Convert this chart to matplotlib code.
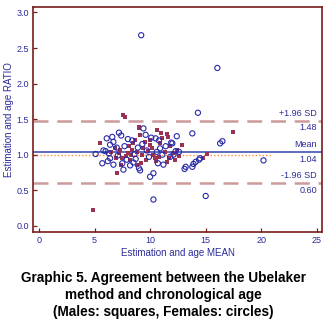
import matplotlib
matplotlib.use("Agg")
import matplotlib.pyplot as plt

plt.rcParams['font.family'] = ['Liberation Sans', 'DejaVu Sans']

# Males (squares): mean of estimation and age, ratio of estimation to age
male_mean = [4.9, 5.5, 6.8, 7.3, 7.5, 7.0, 7.6, 7.7, 8.5, 8.4, 9.0, 8.8, 9.0, 9.1,
             10.6, 11.0, 11.1, 11.5, 10.0, 9.4, 9.3, 8.8, 9.6, 10.3, 10.8, 11.7,
             11.5, 12.4, 12.9, 10.0, 17.5, 14.8, 15.1, 7.2, 7.8, 8.1, 8.2, 8.6,
             9.8, 10.2, 10.5, 10.9, 11.3, 11.8, 12.1, 12.2, 6.5, 6.9, 8.0, 9.5,
             10.4, 11.6, 12.6, 7.4, 9.2, 8.3]
male_ratio = [0.22, 1.17, 1.09, 1.07, 0.95, 0.74, 1.56, 1.53, 1.16, 1.07, 1.37, 1.04,
              1.39, 1.28, 1.35, 1.30, 1.23, 1.29, 1.21, 1.09, 1.00, 0.86, 0.93, 1.00,
              0.97, 0.95, 0.90, 1.07, 1.14, 1.14, 1.32, 0.96, 1.01, 1.02, 0.98, 1.12,
              0.92, 1.21, 1.05, 1.10, 0.91, 1.17, 1.04, 1.12, 1.02, 0.92, 1.04, 0.96,
              1.03, 1.18, 0.95, 1.25, 0.98, 0.85, 0.88, 0.99]

# Females (circles)
female_mean = [9.2, 16.05, 14.3, 16.3, 16.5, 12.0, 13.8, 20.2, 15.0, 10.3, 13.1,
               13.8, 13.9, 14.1, 14.4, 14.5, 6.1, 6.6, 6.7, 6.4, 7.4, 5.1, 5.7, 6.4,
               6.7, 7.5, 9.4, 10.5, 11.9, 10.9, 9.0, 10.3, 10.0, 13.2, 12.3, 12.6,
               12.1, 6.0, 6.3, 7.0, 7.1, 7.7, 7.9, 8.2, 8.4, 8.7, 8.9, 9.1, 9.3, 9.7,
               9.9, 10.1, 10.6, 10.7, 11.1, 11.4, 11.8, 6.2, 7.6, 8.0, 8.5, 9.6, 5.8,
               7.2, 8.6, 10.8, 11.2, 12.4]
female_ratio = [2.68, 2.22, 1.59, 1.16, 1.19, 1.16, 1.30, 0.92, 0.42, 0.37, 0.80,
                0.83, 0.87, 0.90, 0.93, 0.95, 1.23, 1.25, 1.18, 1.14, 1.27, 1.01, 0.88,
                0.95, 0.86, 0.88, 1.37, 1.23, 1.17, 1.09, 0.81, 0.74, 0.69, 0.83, 1.05,
                1.04, 1.00, 1.05, 1.02, 1.10, 0.99, 1.12, 0.93, 0.85, 1.20, 0.94, 1.10,
                0.78, 1.15, 1.06, 0.97, 1.24, 1.04, 0.88, 1.00, 1.12, 0.97, 0.91, 0.79,
                1.22, 0.89, 1.28, 1.06, 1.31, 1.01, 1.20, 0.86, 1.26]

mean_ratio = 1.04
upper_loa = 1.48
lower_loa = 0.60
identity_ratio = 1.0
identity_end = 21.0

x_ticks = [0, 5, 10, 15, 20, 25]
y_ticks = [0.0, 0.5, 1.0, 1.5, 2.0, 2.5, 3.0]

maroon = '#7a1c1c'
navy = '#2b2b9a'
male_col = '#993355'
female_col = '#2a2aa8'
loa_col = '#cc9a9a'

fig = plt.figure(figsize=(3.27, 3.23), dpi=100)
ax = fig.add_axes([0.102, 0.281, 0.884, 0.698])

ax.axhline(upper_loa, color=loa_col, lw=1.8, dashes=(6, 3.5), zorder=1)
ax.axhline(lower_loa, color=loa_col, lw=1.8, dashes=(6, 3.5), zorder=1)
ax.axhline(mean_ratio, color='#5060b8', lw=1.3, zorder=1)
ax.plot([-0.5, identity_end], [identity_ratio, identity_ratio], color='#ff8a3c',
        lw=1.0, ls=(0, (1, 1.5)), zorder=1)

ax.scatter(male_mean, male_ratio, marker='s', s=12, color=male_col, lw=0, zorder=3)
ax.scatter(female_mean, female_ratio, marker='o', s=14, facecolors='none',
           edgecolors=female_col, lw=0.8, zorder=3)

ax.set_xlim(-0.5, 25.5)
ax.set_ylim(-0.09, 3.08)
ax.set_xticks(x_ticks)
ax.set_yticks(y_ticks)
ax.set_xticklabels([str(v) for v in x_ticks])
ax.set_yticklabels([f'{v:.1f}' for v in y_ticks])
ax.tick_params(direction='in', length=3, width=0.9, color=maroon,
               labelcolor=navy, labelsize=6.5, pad=3)
for sp in ax.spines.values():
    sp.set_color(maroon)
    sp.set_linewidth(1.2)

ax.set_xlabel('Estimation and age MEAN', color=navy, fontsize=7, labelpad=2)
ax.set_ylabel('Estimation and age RATIO', color=navy, fontsize=7, labelpad=2)

tx = 25.0
for lab, val in [('+1.96 SD', upper_loa), ('Mean', mean_ratio), ('-1.96 SD', lower_loa)]:
    ax.text(tx, val + 0.04, lab, ha='right', va='bottom', color=navy, fontsize=6.5)
    ax.text(tx, val - 0.04, f'{val:.2f}', ha='right', va='top', color=navy, fontsize=6.5)

fig.text(0.5, 0.012, 'Graphic 5. Agreement between the Ubelaker\n'
         'method and chronological age\n(Males: squares, Females: circles)',
         ha='center', va='bottom', fontsize=9.8, fontweight='bold', color='black',
         linespacing=1.3)

fig.savefig('out.png', dpi=100)
